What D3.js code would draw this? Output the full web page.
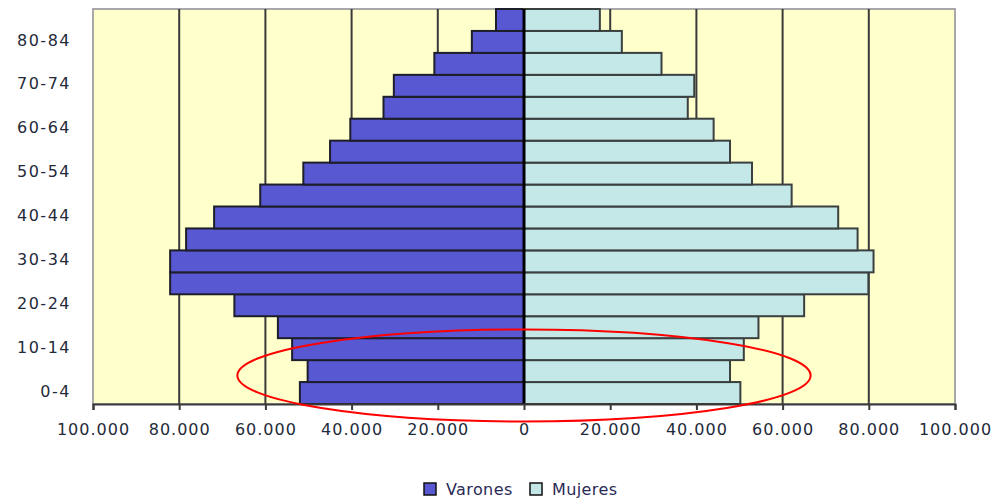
<!DOCTYPE html>
<html>
<head>
<meta charset="utf-8">
<script src="https://cdn.jsdelivr.net/npm/d3@7"></script>
<style>
  body { margin: 0; background: #fff; }
  text { font-family: "DejaVu Sans", sans-serif; }
</style>
</head>
<body>
<div id="chart"></div>
<script>
// Age groups from bottom to top
var ageGroups = ["0-4", "5-9", "10-14", "15-19", "20-24", "25-29", "30-34", "35-39", "40-44",
  "45-49", "50-54", "55-59", "60-64", "65-69", "70-74", "75-79", "80-84", "85+"];

// Population per group
var varones = [52000, 50200, 53800, 57100, 67200, 82100, 82100, 78400, 71900,
  61200, 51200, 45000, 40300, 32600, 30200, 20800, 12100, 6500];
var mujeres = [50200, 47800, 51000, 54400, 65000, 79900, 81100, 77400, 72900,
  62100, 52900, 47800, 44000, 38000, 39500, 31900, 22700, 17600];

var xTicks = [-100000, -80000, -60000, -40000, -20000, 0, 20000, 40000, 60000, 80000, 100000];
var yLabels = ["0-4", "10-14", "20-24", "30-34", "40-44", "50-54", "60-64", "70-74", "80-84"];
var seriesNames = ["Varones", "Mujeres"];
var seriesColors = ["#5858d2", "#c4e8e8"];

var svgWidth = 994;
var svgHeight = 500;
var margin = { top: 9, right: 39, bottom: 96, left: 93 };
var chartWidth = svgWidth - margin.left - margin.right;
var chartHeight = svgHeight - margin.top - margin.bottom;

var svg = d3.select("#chart")
  .append("svg")
  .attr("width", svgWidth)
  .attr("height", svgHeight);

var chartGroup = svg.append("g")
  .attr("transform", `translate(${margin.left}, ${margin.top})`);

var x = d3.scaleLinear()
  .domain([-100000, 100000])
  .range([0, chartWidth]);

var y = d3.scaleBand()
  .domain(ageGroups)
  .range([chartHeight, 0])
  .padding(0);

// plot background
chartGroup.append("rect")
  .attr("width", chartWidth)
  .attr("height", chartHeight)
  .attr("fill", "#ffffcc")
  .attr("stroke", "#a8a8a8")
  .attr("stroke-width", 2);

// vertical gridlines
chartGroup.selectAll(".grid")
  .data(xTicks.filter(d => Math.abs(d) < 100000 && d !== 0))
  .join("line")
  .attr("class", "grid")
  .attr("x1", d => x(d))
  .attr("x2", d => x(d))
  .attr("y1", 0)
  .attr("y2", chartHeight)
  .attr("stroke", "#3a3a3a")
  .attr("stroke-width", 2);

// bars
var rows = ageGroups.map((g, i) => ({ group: g, v: varones[i], m: mujeres[i] }));

chartGroup.selectAll(".bar-v")
  .data(rows)
  .join("rect")
  .attr("class", "bar-v")
  .attr("x", d => x(-d.v))
  .attr("y", d => y(d.group))
  .attr("width", d => x(0) - x(-d.v))
  .attr("height", y.bandwidth())
  .attr("fill", seriesColors[0])
  .attr("stroke", "#1e1e2a")
  .attr("stroke-width", 2);

chartGroup.selectAll(".bar-m")
  .data(rows)
  .join("rect")
  .attr("class", "bar-m")
  .attr("x", x(0))
  .attr("y", d => y(d.group))
  .attr("width", d => x(d.m) - x(0))
  .attr("height", y.bandwidth())
  .attr("fill", seriesColors[1])
  .attr("stroke", "#3a3f3f")
  .attr("stroke-width", 2);

// zero line
chartGroup.append("line")
  .attr("x1", x(0))
  .attr("x2", x(0))
  .attr("y1", 0)
  .attr("y2", chartHeight)
  .attr("stroke", "#000")
  .attr("stroke-width", 3);

// bottom axis
var fmt = d3.formatLocale({ decimal: ",", thousands: ".", grouping: [3], currency: ["", ""] }).format(",");
var bottomAxis = d3.axisBottom(x)
  .tickValues(xTicks)
  .tickSize(6)
  .tickPadding(14)
  .tickFormat(d => fmt(Math.abs(d)));

var xAxis = chartGroup.append("g")
  .attr("transform", `translate(0, ${chartHeight})`)
  .call(bottomAxis);
xAxis.select(".domain").attr("stroke", "#3a3a3a").attr("stroke-width", 2);
xAxis.selectAll(".tick line").attr("stroke", "#3a3a3a").attr("stroke-width", 2);
xAxis.selectAll(".tick text")
  .attr("font-size", "16px")
  .attr("letter-spacing", "1px")
  .attr("fill", "#1f2a3a");

// y labels (every other group)
chartGroup.selectAll(".ylab")
  .data(yLabels)
  .join("text")
  .attr("class", "ylab")
  .attr("x", -22)
  .attr("y", d => y(d) + y.bandwidth() / 2 - 2)
  .attr("dy", "0.35em")
  .attr("text-anchor", "end")
  .attr("font-size", "16px")
  .attr("letter-spacing", "1.5px")
  .attr("fill", "#1f2a3a")
  .text(d => d);

// red annotation ellipse round the youngest groups
chartGroup.append("ellipse")
  .attr("cx", x(0))
  .attr("cy", y("5-9") + y.bandwidth() * 0.7)
  .attr("rx", x(66500) - x(0))
  .attr("ry", 46)
  .attr("fill", "none")
  .attr("stroke", "#ff0000")
  .attr("stroke-width", 2);

// legend
var legend = svg.append("g")
  .attr("transform", "translate(424, 483)");

var legendX = [0, 106];
seriesNames.forEach((name, i) => {
  var item = legend.append("g").attr("transform", `translate(${legendX[i]}, 0)`);
  item.append("rect")
    .attr("width", 12)
    .attr("height", 12)
    .attr("fill", seriesColors[i])
    .attr("stroke", "#111")
    .attr("stroke-width", 1.5);
  item.append("text")
    .attr("x", 22)
    .attr("y", 6)
    .attr("dy", "0.35em")
    .attr("font-size", "16px")
    .attr("letter-spacing", "0.4px")
    .attr("fill", "#2a2a55")
    .text(name);
});
</script>
</body>
</html>
